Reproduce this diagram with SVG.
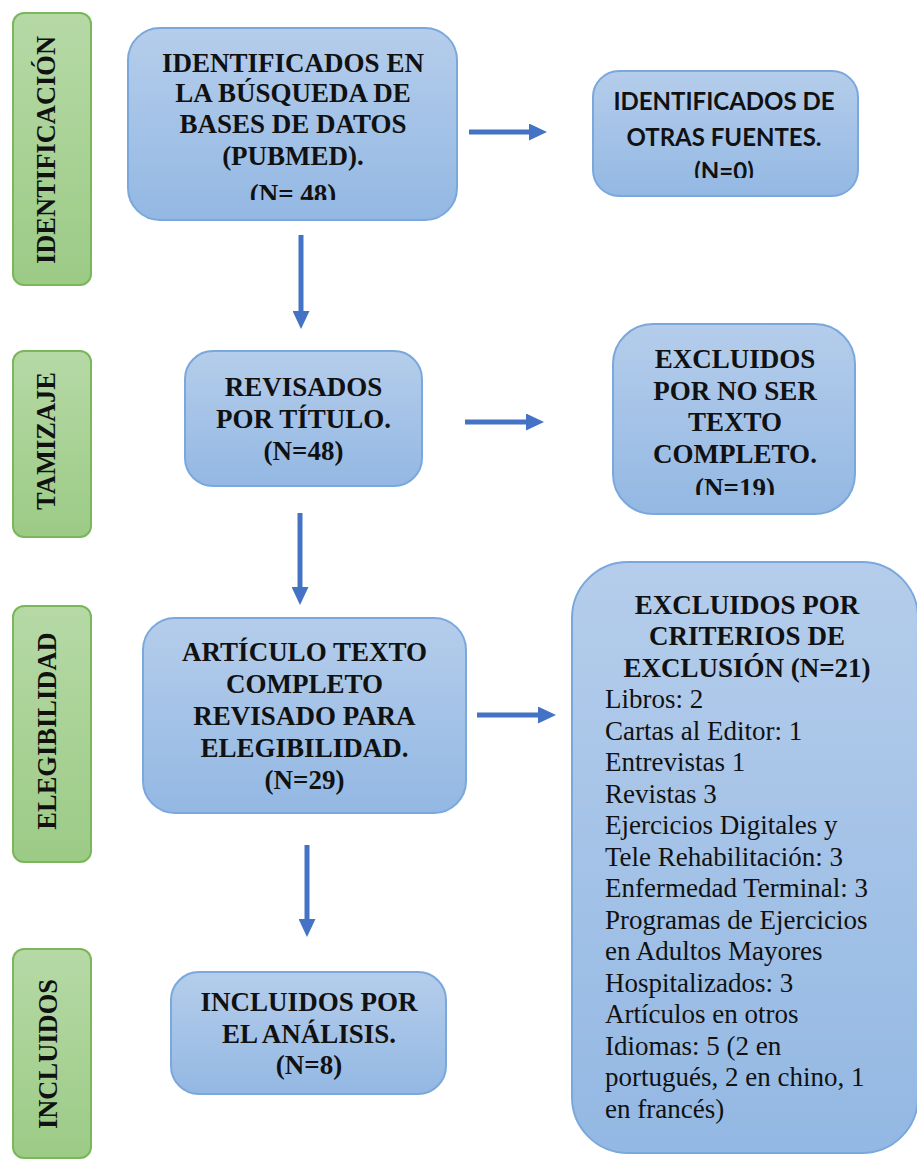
<svg xmlns="http://www.w3.org/2000/svg" width="917" height="1159" viewBox="0 0 917 1159">
  <style>
    .blue { fill: url(#gBlue); stroke: #7aa8dc; stroke-width: 2; }
    .green { fill: url(#gGreen); stroke: #7ab65a; stroke-width: 2; }
    .tb { font-family: "Liberation Serif", "Times New Roman", serif; font-weight: bold; font-size: 27px; fill: #111; text-anchor: middle; }
    .tr { font-family: "Liberation Serif", "Times New Roman", serif; font-size: 27px; fill: #111; }
    .ts { font-family: Lato, "Liberation Sans", sans-serif; font-weight: bold; font-size: 24px; fill: #111; text-anchor: middle; }
    .lbl { font-family: "Liberation Serif", "Times New Roman", serif; font-weight: bold; font-size: 26.5px; fill: #111; text-anchor: middle; }
    .conn { stroke: #4472c4; stroke-width: 5; fill: none; marker-end: url(#ah); }
  </style>
  <defs>
    <linearGradient id="gBlue" x1="0" y1="0" x2="0" y2="1">
      <stop offset="0" stop-color="#b5cdeb"/>
      <stop offset="1" stop-color="#93b8e3"/>
    </linearGradient>
    <linearGradient id="gGreen" x1="0" y1="0" x2="0" y2="1">
      <stop offset="0" stop-color="#b6d9a6"/>
      <stop offset="1" stop-color="#9ccb86"/>
    </linearGradient>
    <marker id="ah" viewBox="0 0 18 17" refX="1" refY="8.5" markerWidth="18" markerHeight="17" markerUnits="userSpaceOnUse" orient="auto">
      <path d="M0,0 L18,8.5 L0,17 z" fill="#4472c4"/>
    </marker>
    <clipPath id="c1"><rect x="128" y="28" width="329" height="172"/></clipPath>
    <clipPath id="c2"><rect x="593" y="71" width="265" height="107"/></clipPath>
    <clipPath id="c4"><rect x="613" y="324" width="242" height="171"/></clipPath>
  </defs>

  <g id="label-identificacion">
    <rect class="green" x="13" y="13" width="78" height="272" rx="11"/>
    <text class="lbl" transform="translate(55,150) rotate(-90)">IDENTIFICACIÓN</text>
  </g>
  <g id="label-tamizaje">
    <rect class="green" x="13" y="351" width="78" height="186" rx="11"/>
    <text class="lbl" transform="translate(55,441) rotate(-90)">TAMIZAJE</text>
  </g>
  <g id="label-elegibilidad">
    <rect class="green" x="13" y="606" width="78" height="256" rx="11"/>
    <text class="lbl" transform="translate(56,731) rotate(-90)">ELEGIBILIDAD</text>
  </g>
  <g id="label-incluidos">
    <rect class="green" x="13" y="949" width="78" height="209" rx="11"/>
    <text class="lbl" transform="translate(57,1054) rotate(-90)">INCLUIDOS</text>
  </g>

  <g id="node-identificados">
    <rect class="blue" x="128" y="28" width="329" height="192" rx="32"/>
    <g clip-path="url(#c1)">
      <text class="tb" x="293" y="71.5">IDENTIFICADOS EN</text>
      <text class="tb" x="293" y="102">LA BÚSQUEDA DE</text>
      <text class="tb" x="293" y="133">BASES DE DATOS</text>
      <text class="tb" x="293" y="165">(PUBMED).</text>
      <text class="tb" x="293" y="203">(N= 48)</text>
    </g>
  </g>

  <g id="node-otras-fuentes">
    <rect class="blue" x="593" y="71" width="265" height="125" rx="26"/>
    <g clip-path="url(#c2)">
      <text class="ts" x="724" y="110">IDENTIFICADOS DE</text>
      <text class="ts" x="724" y="146">OTRAS FUENTES.</text>
      <text class="ts" x="724" y="180">(N=0)</text>
    </g>
  </g>

  <g id="node-revisados">
    <rect class="blue" x="185" y="351" width="237" height="135" rx="28"/>
    <text class="tb" x="303.5" y="396">REVISADOS</text>
    <text class="tb" x="303.5" y="428">POR TÍTULO.</text>
    <text class="tb" x="303.5" y="460">(N=48)</text>
  </g>

  <g id="node-excluidos-texto">
    <rect class="blue" x="613" y="324" width="242" height="190" rx="40"/>
    <g clip-path="url(#c4)">
      <text class="tb" x="735" y="368">EXCLUIDOS</text>
      <text class="tb" x="735" y="400">POR NO SER</text>
      <text class="tb" x="735" y="431">TEXTO</text>
      <text class="tb" x="735" y="463">COMPLETO.</text>
      <text class="tb" x="735" y="497">(N=19)</text>
    </g>
  </g>

  <g id="node-articulo">
    <rect class="blue" x="143" y="618" width="323" height="195" rx="32"/>
    <text class="tb" x="304.5" y="661">ARTÍCULO TEXTO</text>
    <text class="tb" x="304.5" y="693">COMPLETO</text>
    <text class="tb" x="304.5" y="725">REVISADO PARA</text>
    <text class="tb" x="304.5" y="757">ELEGIBILIDAD.</text>
    <text class="tb" x="304.5" y="789">(N=29)</text>
  </g>

  <g id="node-excluidos-criterios">
    <rect class="blue" x="572" y="562" width="346" height="591" rx="56"/>
    <text class="tb" x="747" y="613.5">EXCLUIDOS POR</text>
    <text class="tb" x="747" y="645">CRITERIOS DE</text>
    <text class="tb" x="747" y="676.5">EXCLUSIÓN (N=21)</text>
    <text class="tr" x="605" y="708">Libros: 2</text>
    <text class="tr" x="605" y="739.5">Cartas al Editor: 1</text>
    <text class="tr" x="605" y="771">Entrevistas 1</text>
    <text class="tr" x="605" y="802.5">Revistas 3</text>
    <text class="tr" x="605" y="834">Ejercicios Digitales y</text>
    <text class="tr" x="605" y="865.5">Tele Rehabilitación: 3</text>
    <text class="tr" x="605" y="897">Enfermedad Terminal: 3</text>
    <text class="tr" x="605" y="928.5">Programas de Ejercicios</text>
    <text class="tr" x="605" y="960">en Adultos Mayores</text>
    <text class="tr" x="605" y="991.5">Hospitalizados: 3</text>
    <text class="tr" x="605" y="1023">Artículos en otros</text>
    <text class="tr" x="605" y="1054.5">Idiomas: 5 (2 en</text>
    <text class="tr" x="605" y="1086">portugués, 2 en chino, 1</text>
    <text class="tr" x="605" y="1117.5">en francés)</text>
  </g>

  <g id="node-incluidos">
    <rect class="blue" x="171" y="972" width="275" height="122" rx="28"/>
    <text class="tb" x="309" y="1011">INCLUIDOS POR</text>
    <text class="tb" x="309" y="1043">EL ANÁLISIS.</text>
    <text class="tb" x="309" y="1074">(N=8)</text>
  </g>

  <g id="connectors">
    <line class="conn" x1="469" y1="132" x2="530" y2="132"/>
    <line class="conn" x1="301" y1="235" x2="301" y2="312"/>
    <line class="conn" x1="465" y1="422" x2="527" y2="422"/>
    <line class="conn" x1="300" y1="513" x2="300" y2="588"/>
    <line class="conn" x1="477" y1="715" x2="539" y2="715"/>
    <line class="conn" x1="307" y1="845" x2="307" y2="920"/>
  </g>
</svg>
